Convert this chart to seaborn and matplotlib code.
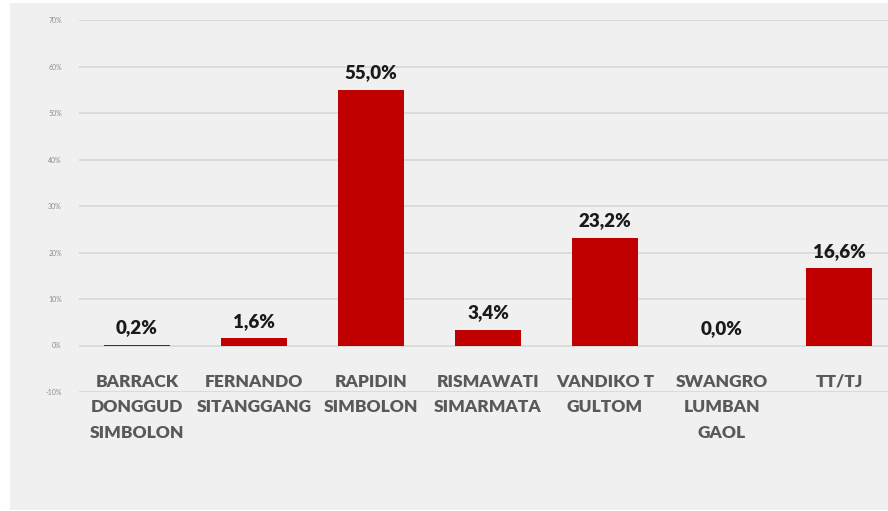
import matplotlib
matplotlib.use("Agg")
import matplotlib.pyplot as plt
import seaborn as sns
import pandas as pd
from matplotlib.patches import Rectangle

categories = ["BARRACK\nDONGGUD\nSIMBOLON", "FERNANDO\nSITANGGANG", "RAPIDIN\nSIMBOLON",
              "RISMAWATI\nSIMARMATA", "VANDIKO T\nGULTOM", "SWANGRO\nLUMBAN\nGAOL", "TT/TJ"]
values = [0.2, 1.6, 55.0, 3.4, 23.2, 0.0, 16.6]
value_labels = ["0,2%", "1,6%", "55,0%", "3,4%", "23,2%", "0,0%", "16,6%"]
yticks = [-10, 0, 10, 20, 30, 40, 50, 60, 70]

sns.set_theme(style="white")
plt.rcParams['font.family'] = ['Lato', 'DejaVu Sans']

W, H = 888, 511
fig = plt.figure(figsize=(W / 100, H / 100), dpi=100, facecolor="white")
fig.patches.append(Rectangle((10 / W, 1 / H), 1 - 10 / W, 1 - 4 / H, transform=fig.transFigure,
                             facecolor="#f0f0f0", edgecolor="none", zorder=-10))

left = 78.5 / W
right = 897.5 / W
top = 1 - 20 / H
bottom = 1 - 392 / H
ax = fig.add_axes([left, bottom, right - left, top - bottom])
ax.set_zorder(5)
ax.set_facecolor("none")

df = pd.DataFrame({"cat": categories, "val": values})
sns.barplot(data=df, x="cat", y="val", color="#C00000", saturation=1, width=0.56,
            linewidth=0, edgecolor="none", ax=ax, zorder=3)

ax.set_ylim(-10, 70)
ax.set_xlim(-0.5, len(categories) - 0.5)
ax.set_yticks(yticks)
ax.set_yticklabels([f"{t}%" for t in yticks], fontsize=5, color="#8c8c8c")
ax.yaxis.grid(True, color="#d9d9d9", linewidth=1.3, zorder=0)
ax.set_axisbelow(True)
for s in ax.spines.values():
    s.set_visible(False)
ax.tick_params(axis="y", length=0, pad=12)
ax.tick_params(axis="x", length=0, pad=-13)
for lbl in ax.get_xticklabels():
    lbl.set_fontsize(12.5)
    lbl.set_fontweight("heavy")
    lbl.set_color("#595959")
    lbl.set_linespacing(1.72)
    lbl.set_va("top")
ax.set_xlabel("")
ax.set_ylabel("")

for i, (v, t) in enumerate(zip(values, value_labels)):
    ax.annotate(t, (i, v), xytext=(0, 6), textcoords="offset points", ha="center", va="bottom",
                fontsize=13.5, fontweight="heavy", color="#1a1a1a")

fig.savefig("out.png", dpi=100, facecolor="white")
